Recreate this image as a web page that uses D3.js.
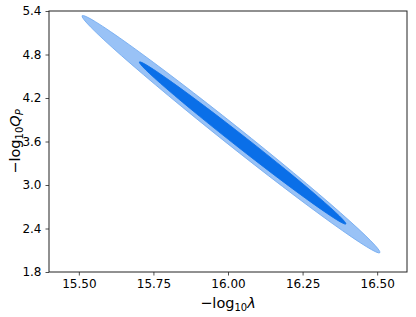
<!DOCTYPE html>
<html>
<head>
<meta charset="utf-8">
<script src="https://cdn.jsdelivr.net/npm/d3@7"></script>
<style>
  body { margin: 0; background: white; }
  text { font-family: "DejaVu Sans", sans-serif; fill: #000; }
</style>
</head>
<body>
<div class="chart"></div>
<script>
// contour levels, tips of the long axis in data units + width/length ratio
var contours = ['outer', 'inner'];
var tipX1 = [15.511, 15.703];
var tipY1 = [5.335, 4.697];
var tipX2 = [16.509, 16.395];
var tipY2 = [2.066, 2.462];
var widthRatio = [0.05, 0.046];
var fills = ['#99c2f6', '#0a6fe8'];
var strokes = ['#74acf0', '#0a6fe8'];

var xTicks = [15.50, 15.75, 16.00, 16.25, 16.50];
var yTicks = [1.8, 2.4, 3.0, 3.6, 4.2, 4.8, 5.4];

var W = 416, H = 317;
var margin = {left: 49, top: 11, right: 9, bottom: 45};
var w = W - margin.left - margin.right,
    h = H - margin.top - margin.bottom;

var svg = d3.select(".chart")
    .append("svg")
    .attr("width", W)
    .attr("height", H);

var g = svg.append("g")
    .attr("transform", "translate(" + margin.left + "," + margin.top + ")");

var x = d3.scaleLinear().domain([15.4, 16.6]).range([0, w]);
var y = d3.scaleLinear().domain([1.8, 5.4]).range([h, 0]);

var data = contours.map(function(d, i) {
    var x1 = x(tipX1[i]), y1 = y(tipY1[i]), x2 = x(tipX2[i]), y2 = y(tipY2[i]);
    var a = Math.sqrt((x2 - x1) * (x2 - x1) + (y2 - y1) * (y2 - y1)) / 2;
    return {
        name: d,
        cx: (x1 + x2) / 2,
        cy: (y1 + y2) / 2,
        rx: a,
        ry: a * widthRatio[i],
        angle: Math.atan2(y2 - y1, x2 - x1) * 180 / Math.PI,
        fill: fills[i],
        stroke: strokes[i]
    };
});

g.selectAll(".contour")
    .data(data)
    .enter().append("ellipse")
    .attr("class", "contour")
    .attr("cx", function(d) { return d.cx; })
    .attr("cy", function(d) { return d.cy; })
    .attr("rx", function(d) { return d.rx; })
    .attr("ry", function(d) { return d.ry; })
    .attr("transform", function(d) {
        return "rotate(" + d.angle + "," + d.cx + "," + d.cy + ")";
    })
    .attr("fill", function(d) { return d.fill; })
    .attr("stroke", function(d) { return d.stroke; })
    .attr("stroke-width", 0.8);

var xAxis = g.append("g")
    .attr("transform", "translate(0," + h + ")")
    .call(d3.axisBottom(x).tickValues(xTicks).tickFormat(d3.format(".2f"))
        .tickSizeInner(3.5).tickSizeOuter(0).tickPadding(4));

var yAxis = g.append("g")
    .call(d3.axisLeft(y).tickValues(yTicks).tickFormat(d3.format(".1f"))
        .tickSizeInner(3.5).tickSizeOuter(0).tickPadding(4));

[xAxis, yAxis].forEach(function(ax) {
    ax.select(".domain").remove();
    ax.selectAll("line").attr("stroke", "#222").attr("stroke-width", 0.8);
    ax.selectAll("text").style("font-size", "12px")
        .style("font-family", "DejaVu Sans, sans-serif").attr("fill", "#000");
});

g.append("rect")
    .attr("x", 0).attr("y", 0)
    .attr("width", w).attr("height", h)
    .attr("fill", "none")
    .attr("stroke", "#222")
    .attr("stroke-width", 1);

// axis labels
var xl = svg.append("text")
    .attr("x", margin.left + w / 2)
    .attr("y", 308)
    .attr("text-anchor", "middle")
    .style("font-size", "14.5px");
xl.append("tspan").text("\u2212log");
xl.append("tspan").attr("dy", 3).style("font-size", "10px").text("10");
xl.append("tspan").attr("dy", -3).style("font-style", "italic").text("\u03bb");

var yl = svg.append("text")
    .attr("transform", "translate(20," + (margin.top + h / 2) + ") rotate(-90)")
    .attr("text-anchor", "middle")
    .style("font-size", "14.5px");
yl.append("tspan").text("\u2212log");
yl.append("tspan").attr("dy", 3).style("font-size", "10px").text("10");
yl.append("tspan").attr("dy", -3).style("font-style", "italic").text("Q");
yl.append("tspan").attr("dy", 3).style("font-size", "10px").style("font-style", "italic").text("P");
</script>
</body>
</html>
